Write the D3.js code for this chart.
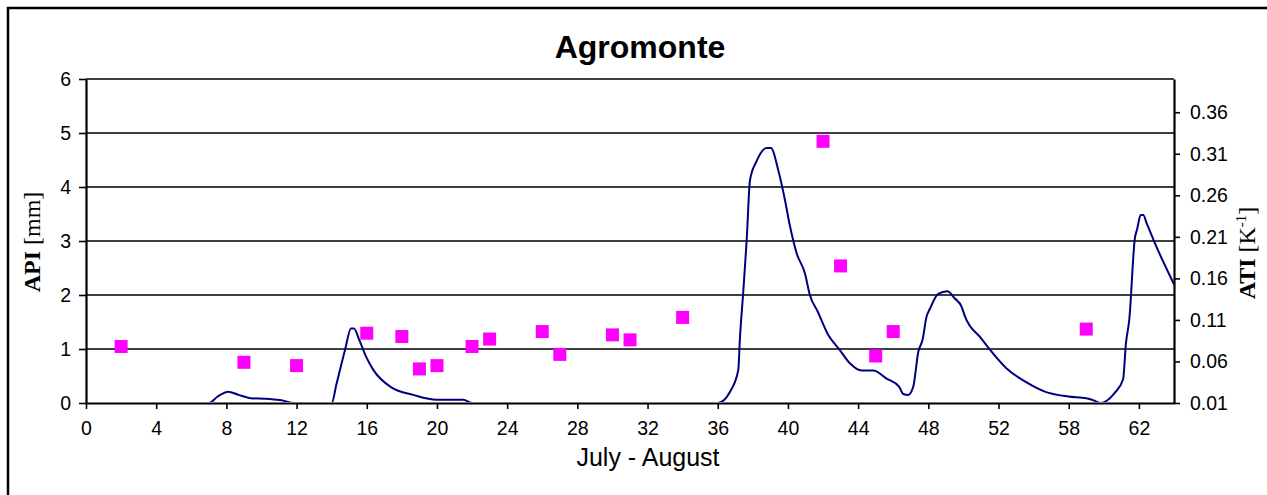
<!DOCTYPE html>
<html>
<head>
<meta charset="utf-8">
<script src="https://cdn.jsdelivr.net/npm/d3@7"></script>
<style>
  html, body { margin: 0; padding: 0; background: #fff; }
  svg { display: block; }
</style>
</head>
<body>
<svg id="chart" width="1267" height="495"></svg>
<script>
// ---- Data ----
const chartTitle = "Agromonte";
const xAxisTitle = "July - August";

// API line (mm): position along the July-August axis, value
const apiX = [0, 7, 7.5, 8.1, 8.7, 9.4, 10.2, 11.05, 11.9, 14.0, 14.28, 14.76, 15.1, 15.27, 15.57, 16.0, 16.4, 17.4, 18.65, 19.98, 21.5, 22.0,
  36.0, 36.7, 37.17, 37.26, 37.46, 37.65, 37.84, 38.2, 38.78, 39.03, 39.45, 39.83, 40.1, 40.5, 40.97, 41.25, 41.7, 42.3, 42.96, 43.53, 44.2, 44.86,
  45.6, 46.34, 46.57, 46.85, 47.14, 47.43, 47.67, 47.9, 48.1, 48.56, 49.08, 49.5, 49.9, 50.08, 51.0, 52.46, 53.6, 54.64, 55.97, 57.0, 57.5, 57.8,
  58.6, 59.1, 59.26, 59.45, 59.77, 59.9, 60.1, 60.25, 60.44, 60.91, 62.0];
const apiY = [0, 0, 0.12, 0.21, 0.15, 0.09, 0.08, 0.055, 0, 0, 0.36, 0.98, 1.38, 1.38, 1.17, 0.83, 0.6, 0.29, 0.15, 0.06, 0.06, 0,
  0, 0.21, 0.61, 1.17, 2.09, 3.02, 4.13, 4.47, 4.72, 4.72, 4.31, 3.76, 3.3, 2.77, 2.4, 2.0, 1.69, 1.26, 0.98, 0.735, 0.6, 0.6,
  0.457, 0.3, 0.167, 0.15, 0.3, 0.95, 1.17, 1.6, 1.75, 2.02, 2.07, 1.94, 1.78, 1.61, 1.2, 0.64, 0.38, 0.21, 0.12, 0.087, 0.04, 0,
  0.18, 0.44, 1.1, 1.54, 3.05, 3.22, 3.48, 3.48, 3.33, 2.96, 2.2];

// ATI points (K^-1)
const atiX = [2, 9, 12, 16, 18, 19, 20, 22, 23, 26, 27, 30, 31, 34, 42, 43, 45, 46, 57];
const atiY = [0.078, 0.059, 0.055, 0.094, 0.090, 0.051, 0.055, 0.078, 0.087, 0.096, 0.0685, 0.092, 0.086, 0.113, 0.325, 0.175, 0.0666, 0.096, 0.099];

// Axis ticks
const xTickValues = [0, 4, 8, 12, 16, 20, 24, 28, 32, 36, 40, 44, 48, 52, 56, 60];
const xTickLabels = ["0", "4", "8", "12", "16", "20", "24", "28", "32", "36", "40", "44", "48", "52", "58", "62"];
const yLeftTicks = [0, 1, 2, 3, 4, 5, 6];
const yRightTicks = [0.01, 0.06, 0.11, 0.16, 0.21, 0.26, 0.31, 0.36];

// ---- Layout ----
const svg = d3.select("#chart");
const plot = { left: 86, right: 1174, top: 79, bottom: 403 };
const sans = "'Liberation Sans', Arial, sans-serif";
const serif = "'Liberation Serif', 'Times New Roman', serif";

const x = d3.scaleLinear().domain([0, 62]).range([plot.left, plot.right]);
const yL = d3.scaleLinear().domain([0, 6]).range([plot.bottom, plot.top]);
const yR = d3.scaleLinear().domain([0.01, 0.40]).range([plot.bottom, plot.top]);

// outer frame
svg.append("path")
  .attr("d", "M8,520 V8 H1300")
  .attr("fill", "none").attr("stroke", "#000").attr("stroke-width", 2.5);

// gridlines
svg.append("g").selectAll("line").data(yLeftTicks.filter(d => d > 0)).join("line")
  .attr("x1", plot.left).attr("x2", plot.right)
  .attr("y1", d => yL(d)).attr("y2", d => yL(d))
  .attr("stroke", "#000").attr("stroke-width", 1.6);

// clip (keeps the zero stretches hidden under the x axis, as in the original)
svg.append("clipPath").attr("id", "clip").append("rect")
  .attr("x", plot.left).attr("y", plot.top - 2)
  .attr("width", plot.right - plot.left + 3).attr("height", plot.bottom - plot.top + 1);

// API line
const lineData = apiX.map((d, i) => [d, apiY[i]]);
svg.append("path")
  .datum(lineData)
  .attr("clip-path", "url(#clip)")
  .attr("fill", "none").attr("stroke", "#000080").attr("stroke-width", 2)
  .attr("stroke-linejoin", "round")
  .attr("d", d3.line().x(d => x(d[0])).y(d => yL(d[1])).curve(d3.curveMonotoneX));

// ATI squares
const sq = 13;
svg.append("g").selectAll("rect").data(atiX.map((d, i) => [d, atiY[i]])).join("rect")
  .attr("x", d => x(d[0]) - sq / 2).attr("y", d => yR(d[1]) - sq / 2)
  .attr("width", sq).attr("height", sq)
  .attr("fill", "#FF00FF");

// axes
const xAxis = d3.axisBottom(x).tickValues(xTickValues)
  .tickFormat((d, i) => xTickLabels[i]).tickSize(6).tickPadding(12).tickSizeOuter(0);
const gx = svg.append("g").attr("transform", `translate(0,${plot.bottom})`).call(xAxis);

const gl = svg.append("g").attr("transform", `translate(${plot.left},0)`)
  .call(d3.axisLeft(yL).tickValues(yLeftTicks).tickFormat(d3.format("d")).tickSize(7).tickPadding(8).tickSizeOuter(0));

const gr = svg.append("g").attr("transform", `translate(${plot.right},0)`)
  .call(d3.axisRight(yR).tickValues(yRightTicks).tickFormat(d3.format(".2f")).tickSize(6).tickPadding(10).tickSizeOuter(0));

[gx, gl, gr].forEach(g => {
  g.select(".domain").attr("stroke", "#000").attr("stroke-width", 2.2);
  g.selectAll(".tick line").attr("stroke", "#000").attr("stroke-width", 1.6);
  g.selectAll(".tick text").attr("fill", "#000").style("font-family", sans).style("font-size", "19.5px");
});

// Title
svg.append("text")
  .attr("x", 640).attr("y", 58)
  .attr("text-anchor", "middle")
  .style("font-family", sans).style("font-weight", "bold").style("font-size", "32px")
  .text(chartTitle);

// X axis title
svg.append("text")
  .attr("x", 648).attr("y", 466)
  .attr("text-anchor", "middle")
  .style("font-family", sans).style("font-size", "25px")
  .text(xAxisTitle);

// Left Y title
const lt = svg.append("text")
  .attr("transform", "translate(40,242) rotate(-90)")
  .attr("text-anchor", "middle")
  .style("font-family", serif).style("font-size", "24px");
lt.append("tspan").style("font-weight", "bold").text("API");
lt.append("tspan").text(" [mm]");

// Right Y title
const rt = svg.append("text")
  .attr("transform", "translate(1255,253) rotate(-90)")
  .attr("text-anchor", "middle")
  .style("font-family", serif).style("font-size", "24px");
rt.append("tspan").style("font-weight", "bold").text("ATI");
rt.append("tspan").text(" [K");
rt.append("tspan").attr("dy", -9).style("font-size", "15px").text("-1");
rt.append("tspan").attr("dy", 9).text("]");
</script>
</body>
</html>
